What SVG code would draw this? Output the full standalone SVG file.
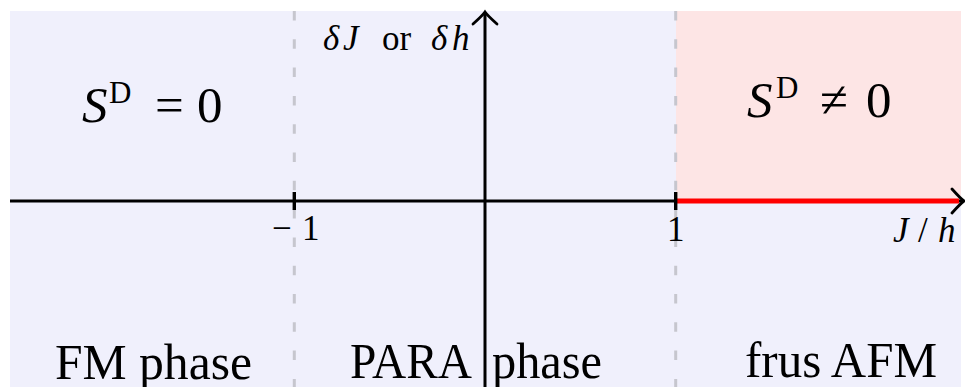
<svg xmlns="http://www.w3.org/2000/svg" width="965" height="387" viewBox="0 0 965 387">
<style>
.t{font-family:"Liberation Serif","Times New Roman",serif;fill:#000}
.big{font-size:51px}
.sm{font-size:35px}
.it{font-style:italic}
.axis{stroke:#000;stroke-width:3;fill:none}
.dash{stroke:#C6C6CE;stroke-width:3;stroke-dasharray:9.5 18.8;fill:none}
.tick{stroke:#000;stroke-width:3.4}
</style>
<defs>
<marker id="arr" markerUnits="userSpaceOnUse" markerWidth="30" markerHeight="30" viewBox="-15 -15 30 30" refX="0" refY="0" orient="auto" overflow="visible">
<path d="M -12 -12 C -7.5 -7 -3 -2 0 0 C -3 2 -7.5 7 -12 12" fill="none" stroke="#000" stroke-width="2.8" stroke-linecap="round"/>
</marker>
</defs>
<g id="regions">
<rect x="10" y="11" width="951" height="376" fill="#F0F0FC"/>
<rect x="676" y="11" width="285" height="190" fill="#FDE5E5"/>
</g>
<g id="boundaries">
<line class="dash" x1="294.3" y1="11" x2="294.3" y2="387"/>
<line class="dash" x1="675.7" y1="11" x2="675.7" y2="387"/>
</g>
<g id="connectors">
<line class="axis" x1="10" y1="201" x2="964" y2="201" marker-end="url(#arr)"/>
<line class="axis" x1="485" y1="387" x2="485" y2="12" marker-end="url(#arr)"/>
<line x1="676" y1="201" x2="959" y2="201" stroke="#FF0000" stroke-width="5"/>
<line class="tick" x1="294.3" y1="192" x2="294.3" y2="210"/>
<line class="tick" x1="675.7" y1="192" x2="675.7" y2="210"/>
</g>
<g id="label-y">
<text class="t sm" y="50"><tspan x="323" class="it">δ</tspan><tspan x="343" class="it">J</tspan><tspan x="382">or</tspan><tspan x="431" class="it">δ</tspan><tspan x="452" class="it">h</tspan></text>
</g>
<g id="label-x">
<text class="t sm" y="242"><tspan x="893" class="it">J</tspan><tspan x="918">/</tspan><tspan x="938" class="it">h</tspan></text>
</g>
<g id="tick-labels">
<text class="t sm" y="240"><tspan x="272">−</tspan><tspan x="302">1</tspan></text>
<text class="t sm" x="667" y="241">1</text>
</g>
<g id="sd-zero">
<text class="t big" y="122"><tspan x="82" class="it">S</tspan><tspan x="109" y="103" style="font-size:31px">D</tspan><tspan x="155" y="122">=</tspan><tspan x="197" y="122">0</tspan></text>
</g>
<g id="sd-nonzero">
<text class="t big" y="117"><tspan x="747" class="it">S</tspan><tspan x="776" y="98" style="font-size:31px">D</tspan><tspan x="820" y="117">≠</tspan><tspan x="866" y="117">0</tspan></text>
</g>
<g id="fm-phase">
<text class="t big" x="55" y="379" textLength="197" lengthAdjust="spacingAndGlyphs">FM phase</text>
</g>
<g id="para-phase">
<text class="t big" x="350" y="378" textLength="122" lengthAdjust="spacingAndGlyphs">PARA</text>
<text class="t big" x="492" y="378" textLength="110" lengthAdjust="spacingAndGlyphs">phase</text>
</g>
<g id="frus-afm">
<text class="t big" x="745" y="377" textLength="192" lengthAdjust="spacingAndGlyphs">frus AFM</text>
</g>
</svg>
